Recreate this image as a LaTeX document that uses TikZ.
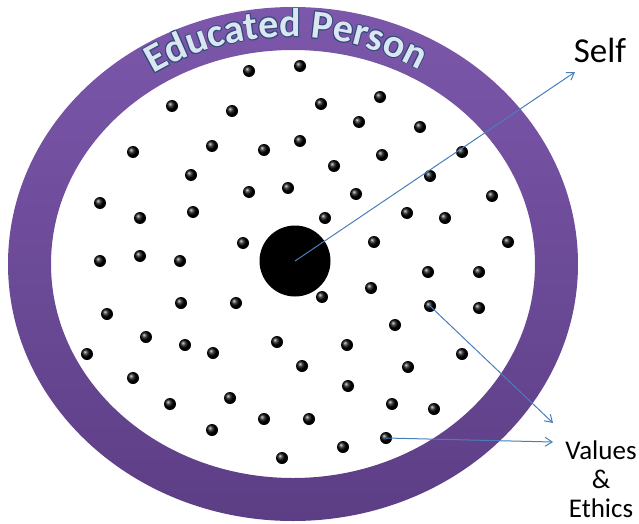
\documentclass[tikz,border=0pt]{standalone}
\usepackage{fontspec}
\setmainfont{Carlito}
\usetikzlibrary{decorations.text,arrows.meta}
\definecolor{ringtop}{HTML}{7C57AB}
\definecolor{ringbot}{HTML}{5C3E85}
\definecolor{wordfill}{HTML}{DCE6F2}
\definecolor{wordline}{HTML}{2E4B78}
\definecolor{arrowblue}{HTML}{4A7EBB}
\tikzset{
  dot/.style={circle, ball color=black, minimum size=12pt, inner sep=0pt},
  pointer/.style={->, draw=arrowblue, line width=1pt},
}
\begin{document}
\begin{tikzpicture}[x=1pt, y=-1pt, >={Straight Barb[length=7pt,width=9pt]}]
\useasboundingbox (0,0) rectangle (639,524);
% ring
\shade[top color=ringtop, bottom color=ringbot, even odd rule]
  (293,264) ellipse [x radius=285, y radius=257]
  (293,264) ellipse [x radius=242, y radius=214];
% ring title: outline first, then fill
\foreach \dx/\dy in {-0.9/0, 0.9/0, 0/-0.9, 0/0.9, -0.7/-0.7, 0.7/0.7, -0.7/0.7, 0.7/-0.7}
  \path[decorate, decoration={text along path, text align=center,
    text={|\color{wordline}\bfseries\fontsize{40}{40}\selectfont|Educated Person}}]
    ([shift={(290+\dx,265+\dy)}]-128:250 and 228) arc [start angle=-128, end angle=-54, x radius=250, y radius=228];
\path[decorate, decoration={text along path, text align=center,
    text={|\color{wordfill}\bfseries\fontsize{40}{40}\selectfont|Educated Person}}]
    ([shift={(290,265)}]-128:250 and 228) arc [start angle=-128, end angle=-54, x radius=250, y radius=228];
% dots
\foreach \p [count=\i] in {(249,71),(300,66),(172,106),(232,111),(321,104),(380,97),
    (359,122),(420,127),(133,152),(212,146),(264,150),(300,141),(382,155),(462,152),
    (191,175),(334,166),(430,176),(100,203),(249,192),(288,188),(356,194),(492,196),
    (140,218),(193,212),(325,218),(407,213),(445,218),(243,243),(374,242),(508,242),
    (100,261),(140,256),(180,261),(428,272),(479,272),(322,297),(371,288),(107,314),
    (181,303),(236,303),(479,308),(395,325),(146,337),(185,345),(213,353),(277,342),
    (347,345),(87,354),(462,354),(302,366),(408,367),(133,378),(348,386),(170,404),
    (230,398),(392,404),(434,409),(264,419),(309,419),(212,430),(343,447),(282,458)}
  \node[dot] (d\i) at \p {};
\node[dot] (v1) at (430,306) {};
\node[dot] (v2) at (386,438) {};
% self
\node[circle, fill=black, minimum size=71pt, inner sep=0pt] (self) at (295,261) {};
\node[font=\fontsize{35}{40}\selectfont] (selflbl) at (600,50) {Self};
\node[font=\fontsize{27}{29}\selectfont, align=center] (vallbl) at (601,479) {Values\\\&\\Ethics};
\coordinate (selfend) at (575,72);
\coordinate (valend1) at (553,423);
\coordinate (valend2) at (553,442);
% pointers
\draw[pointer] (self.center) -- (selfend);
\draw[pointer] (v1.center) -- (valend1);
\draw[pointer] (v2.center) -- (valend2);
\end{tikzpicture}
\end{document}
